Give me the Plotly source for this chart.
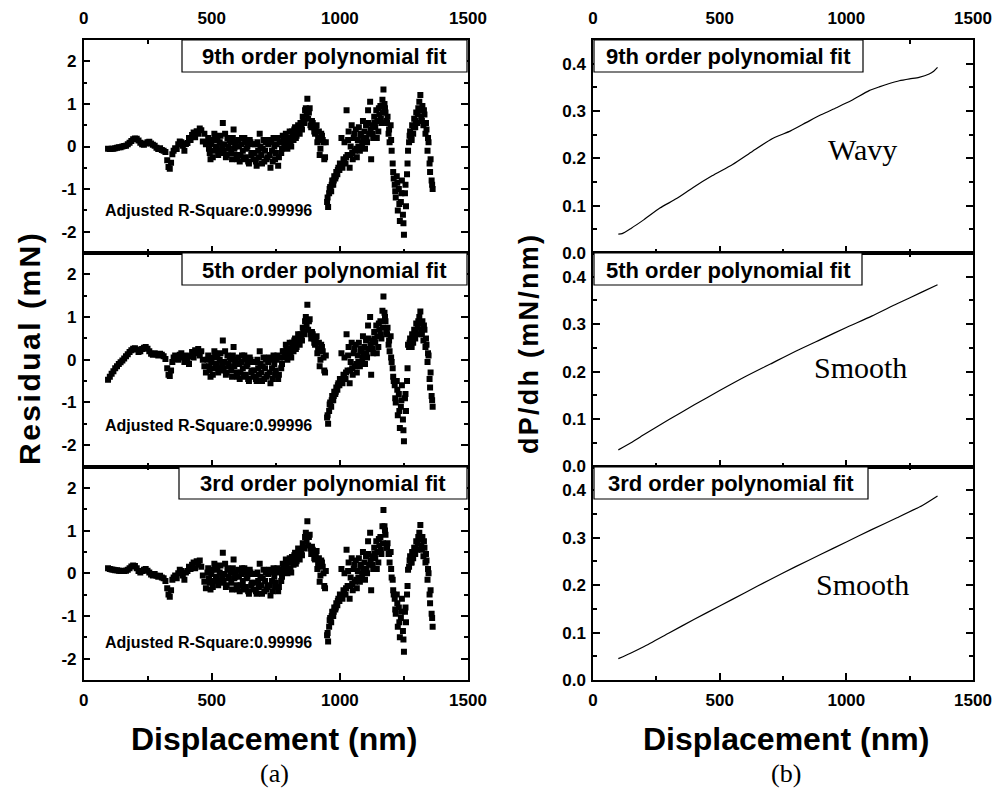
import plotly.graph_objects as go

W, H = 999, 789

# ---------------- data ----------------
displacement = [
    95, 102, 109, 116, 123, 130, 137, 144, 151, 158, 165, 172, 179, 186, 193, 200, 207, 214, 221, 228,
    235, 242, 249, 256, 263, 270, 277, 284, 291, 298, 305, 312, 319,
    326, 331, 336, 341, 346,
    351, 357, 363, 369, 375, 381, 387, 393, 399, 405, 411, 417, 423, 429, 435, 441, 447, 453, 459, 465, 471, 477,
    483, 489, 495, 501, 507, 513, 519, 525, 531, 537, 543, 549, 555, 561, 567, 573, 579, 585, 591, 597,
    603, 609, 615, 621, 627, 633, 639, 645, 651, 657, 663, 669, 675, 681, 687, 693, 699, 705, 711, 717,
    723, 729, 735, 741, 747, 753, 759, 765, 771, 777, 783, 789, 795, 801, 807, 813, 819, 825, 831, 837,
    843, 849, 855, 861, 867, 873, 879, 885, 891, 897, 903, 909, 915, 921, 927, 933, 939, 945,
    950, 954, 958, 962, 966, 970, 974, 978, 982, 986, 990, 994, 998,
    1002, 1006, 1010, 1014, 1018, 1022, 1026, 1030, 1034, 1038, 1042, 1046, 1050, 1054, 1058,
    1062, 1066, 1070, 1074, 1078, 1082, 1086, 1090, 1094, 1098, 1102, 1106, 1110, 1114, 1118, 1122,
    1126, 1130, 1134, 1138, 1142, 1146, 1150, 1154, 1158, 1162, 1166, 1170,
    1174, 1178, 1182, 1186, 1190, 1194, 1198, 1202, 1206, 1210,
    1214, 1218, 1222, 1226, 1230, 1234, 1238, 1242, 1246, 1250, 1254, 1258, 1262, 1266,
    1270, 1274, 1278, 1282, 1286, 1290, 1294, 1298, 1302, 1306, 1310, 1314, 1318, 1322, 1326, 1330, 1334,
    1338, 1342, 1346, 1350, 1354, 1358, 1362,
]

residual_9th = [
    -0.05, -0.06, -0.05, -0.05, -0.04, -0.03, -0.02, -0.02, 0.00, 0.01, 0.02, 0.05, 0.09, 0.13, 0.17, 0.19, 0.18, 0.14, 0.09, 0.05,
    0.04, 0.07, 0.10, 0.11, 0.07, 0.04, 0.02, -0.03, -0.06, -0.04, -0.08, -0.10, -0.13,
    -0.32, -0.48, -0.52, -0.38, -0.18,
    -0.10, -0.04, -0.06, 0.05, 0.12, 0.10, 0.02, -0.10, 0.06, 0.08, 0.20, 0.15, 0.27, 0.33, 0.22, 0.36, 0.30, 0.42, 0.38, 0.12, 0.30, 0.05,
    0.10, -0.05, -0.30, 0.15, -0.10, 0.25, 0.00, -0.20, 0.10, -0.15,
    0.55, 0.05, -0.25, 0.20, -0.05, 0.10, -0.30, 0.40, 0.00, -0.20,
    0.15, -0.35, 0.05, -0.10, 0.20, -0.25, 0.00, -0.40, 0.10, -0.15,
    -0.30, 0.05, -0.45, -0.10, 0.30, -0.20, -0.05, -0.35, 0.10, -0.25,
    0.15, -0.50, -0.10, 0.20, -0.30, 0.05, -0.45, 0.10, -0.15, 0.25,
    0.00, 0.30, -0.05, 0.20, 0.10, 0.35, 0.15, 0.45, 0.25, 0.50,
    0.30, 0.45, 0.70, 0.55, 0.90, 1.12, 0.80, 0.50, 0.60, 0.45,
    0.30, 0.50, 0.20, -0.20, 0.30, 0.15, -0.30, 0.10,
    -1.30, -1.42, -1.10, -0.95, -1.05, -0.80, -0.90, -0.70, -0.75, -0.60, -0.65, -0.50, -0.55,
    -0.45, 0.20, -0.50, -0.30, 0.10, -0.40, 0.85, -0.20, 0.35, -0.50, 0.00, 0.50, -0.30, 0.20, -0.10,
    0.40, -0.25, 0.15, 0.45, -0.10, 0.30, 0.00, 0.60, 0.20, -0.05, 0.50, 0.10, 0.85, 0.30, 1.05, -0.30,
    0.50, 0.20, 0.70, 0.45, 0.85, 0.60, 0.35, 0.75, 0.95, 0.55, 1.10, 1.34,
    1.00, 0.80, 0.60, 0.70, 0.30, 0.10, 0.50, -0.10, -0.40, -0.75,
    -0.90, -1.20, -0.70, -1.50, -1.00, -1.75, -1.30, -0.80, -1.60, -2.07, -1.10, -1.40, -0.65, -0.10,
    0.10, 0.35, 0.20, 0.50, 0.30, 0.65, 0.45, 0.80, 0.55, 0.90, 1.05, 1.21, 0.70, 0.95, 0.50, 0.75, 0.30,
    0.40, -0.10, 0.10, -0.40, -0.30, -0.80, -1.00,
]

residual_5th = [
    -0.47, -0.40, -0.33, -0.27, -0.20, -0.15, -0.10, -0.06, -0.02, 0.03, 0.08, 0.13, 0.18, 0.22, 0.26, 0.27, 0.24, 0.18, 0.20, 0.25,
    0.28, 0.30, 0.26, 0.20, 0.14, 0.12, 0.15, 0.13, 0.10, 0.14, 0.12, 0.08, 0.02,
    -0.20, -0.35, -0.38, -0.25, -0.05,
    0.05, 0.10, 0.02, 0.00, 0.12, 0.15, 0.05, -0.05, 0.10, 0.02, -0.10, 0.08, 0.18, 0.05, 0.22, 0.15, 0.25, 0.10, 0.20, 0.00, -0.15, -0.30,
    0.00, -0.15, -0.40, 0.05, -0.20, 0.15, -0.10, -0.30, 0.00, -0.25,
    0.45, -0.05, -0.35, 0.10, -0.15, 0.00, -0.40, 0.30, -0.10, -0.30,
    0.05, -0.45, -0.05, -0.20, 0.10, -0.35, -0.10, -0.50, 0.00, -0.25,
    -0.40, -0.05, -0.50, -0.20, 0.20, -0.30, -0.15, -0.45, 0.00, -0.35,
    0.05, -0.55, -0.20, 0.10, -0.35, 0.00, -0.45, 0.05, -0.20, 0.20,
    0.05, 0.35, 0.00, 0.25, 0.15, 0.40, 0.20, 0.50, 0.30, 0.60,
    0.35, 0.55, 0.75, 0.60, 1.00, 1.29, 0.90, 0.60, 0.65, 0.50,
    0.35, 0.55, 0.25, -0.15, 0.35, 0.20, -0.25, 0.10,
    -1.35, -1.50, -1.20, -1.00, -1.10, -0.85, -0.95, -0.75, -0.80, -0.65, -0.70, -0.55, -0.60,
    -0.50, 0.15, -0.55, -0.35, 0.05, -0.45, 0.60, -0.25, 0.30, -0.55, -0.05, 0.40, -0.35, 0.15, -0.15,
    0.35, -0.30, 0.10, 0.40, -0.15, 0.25, -0.05, 0.55, 0.15, -0.10, 0.45, 0.05, 0.80, 0.25, 1.00, -0.35,
    0.45, 0.15, 0.65, 0.40, 0.80, 0.55, 0.30, 0.70, 0.90, 0.50, 1.15, 1.48,
    1.10, 0.90, 0.65, 0.75, 0.35, 0.20, 0.55, -0.05, -0.20, -0.50,
    -0.60, -1.00, -0.50, -1.30, -0.80, -1.60, -1.10, -0.60, -1.40, -1.91, -0.90, -1.20, -0.50, 0.35,
    0.30, 0.50, 0.35, 0.60, 0.40, 0.70, 0.50, 0.85, 0.60, 0.90, 1.00, 1.13, 0.70, 0.90, 0.45, 0.70, 0.30,
    0.35, -0.05, 0.10, -0.45, -0.30, -0.85, -1.10,
]

residual_3rd = [
    0.12, 0.10, 0.09, 0.08, 0.07, 0.07, 0.06, 0.05, 0.06, 0.05, 0.06, 0.08, 0.12, 0.16, 0.18, 0.17, 0.12, 0.05, 0.02, 0.05,
    0.08, 0.10, 0.06, 0.02, -0.03, -0.05, -0.02, -0.06, -0.08, -0.06, -0.10, -0.12, -0.18,
    -0.35, -0.50, -0.55, -0.40, -0.15,
    -0.10, -0.05, -0.12, 0.00, 0.08, 0.05, -0.05, -0.15, 0.02, 0.05, 0.15, 0.10, 0.20, 0.25, 0.12, 0.28, 0.20, 0.30, 0.15, -0.05, -0.20, -0.35,
    0.02, -0.12, -0.38, 0.08, -0.18, 0.18, -0.08, -0.28, 0.02, -0.22,
    0.48, -0.02, -0.32, 0.12, -0.12, 0.02, -0.38, 0.32, -0.08, -0.28,
    0.08, -0.42, -0.02, -0.18, 0.12, -0.32, -0.08, -0.48, 0.02, -0.22,
    -0.38, -0.02, -0.48, -0.18, 0.22, -0.28, -0.12, -0.42, 0.02, -0.32,
    0.08, -0.52, -0.18, 0.12, -0.32, 0.02, -0.42, 0.08, -0.18, 0.22,
    0.05, 0.32, 0.00, 0.25, 0.12, 0.38, 0.20, 0.48, 0.28, 0.58,
    0.32, 0.52, 0.70, 0.58, 0.95, 1.22, 0.85, 0.58, 0.62, 0.48,
    0.32, 0.52, 0.22, -0.20, 0.30, 0.15, -0.30, 0.05,
    -1.45, -1.60, -1.25, -1.05, -1.15, -0.90, -1.00, -0.80, -0.85, -0.70, -0.75, -0.60, -0.65,
    -0.55, 0.10, -0.60, -0.40, 0.00, -0.50, 0.55, -0.30, 0.25, -0.60, -0.10, 0.35, -0.40, 0.10, -0.20,
    0.30, -0.35, 0.05, 0.35, -0.20, 0.20, -0.10, 0.50, 0.10, -0.15, 0.40, 0.00, 0.75, 0.20, 0.95, -0.40,
    0.40, 0.10, 0.60, 0.35, 0.75, 0.50, 0.25, 0.65, 0.85, 0.45, 1.10, 1.48,
    1.10, 0.90, 0.60, 0.70, 0.45, 0.25, 0.50, -0.10, -0.15, -0.50,
    -0.60, -0.95, -0.50, -1.25, -0.80, -1.50, -1.05, -0.60, -1.35, -1.84, -0.90, -1.15, -0.50, 0.08,
    0.15, 0.40, 0.25, 0.50, 0.35, 0.60, 0.45, 0.75, 0.55, 0.85, 0.95, 1.13, 0.65, 0.85, 0.40, 0.60, 0.25,
    0.30, -0.15, 0.00, -0.50, -0.40, -0.95, -1.25,
]

# second interleaved set of residual points (dense region of the scatter)
displacement_extra = [
    486, 492, 498, 504, 510, 516, 522, 528, 534, 540, 546, 552, 558, 564, 570, 576, 582, 588, 594, 600,
    606, 612, 618, 624, 630, 636, 642, 648, 654, 660, 666, 672, 678, 684, 690, 696, 702, 708, 714, 720,
    726, 732, 738, 744, 750, 756, 762, 768, 774, 780, 786, 792, 798, 804, 810, 816, 822, 828, 834, 840,
    846, 852, 858, 864, 870, 876, 882, 888, 894, 900, 906, 912, 918, 924, 930, 936, 942,
    952, 960, 968, 976, 984, 992, 1000, 1008, 1016, 1024, 1032, 1040, 1048, 1056,
    1064, 1072, 1080, 1088, 1096, 1104, 1112, 1120, 1128, 1136, 1144, 1152, 1160, 1168,
    1176, 1184, 1192, 1200, 1208, 1216, 1224, 1232, 1240, 1248, 1256, 1264,
    1272, 1280, 1288, 1296, 1304, 1312, 1320, 1328, 1336, 1344, 1352, 1360,
]

residual_9th_extra = [
    0.20, -0.15, 0.05, -0.25, 0.30, -0.05, 0.15, -0.10, 0.25, 0.00,
    -0.10, 0.30, -0.20, 0.00, 0.15, -0.15, 0.20, -0.05, 0.10, -0.30,
    0.00, -0.20, 0.20, -0.30, 0.10, -0.05, -0.35, 0.15, -0.20, 0.05,
    -0.15, -0.35, 0.10, -0.25, 0.00, -0.40, 0.15, -0.10, -0.30, 0.05,
    -0.20, 0.10, -0.35, 0.00, -0.15, 0.20, -0.25, 0.10, -0.05, 0.15,
    0.10, 0.20, 0.05, 0.35, 0.00, 0.25, 0.40, 0.20, 0.35, 0.45,
    0.55, 0.40, 0.60, 0.85, 0.75, 0.65, 0.90, 0.45, 0.55, 0.35,
    0.40, 0.10, 0.35, -0.05, 0.25, 0.10, -0.25,
    -1.20, -1.00, -0.90, -0.80, -0.70, -0.55, -0.40, -0.45, -0.35, -0.25, 0.15, -0.20, -0.15, 0.30,
    -0.05, 0.00, 0.25, 0.10, 0.35, 0.20, 0.55, 0.40, 0.30, 0.55, 0.20, 0.90, 0.65, 0.80,
    0.90, 0.55, 0.40, 0.15, -0.60, -1.05, -0.85, -1.35, -1.10, -1.80, -0.90, -0.40,
    0.25, 0.15, 0.45, 0.60, 0.75, 0.85, 0.60, 0.85, 0.55, 0.20, -0.60, -0.90,
]

residual_5th_extra = [
    0.10, -0.25, -0.05, -0.35, 0.20, -0.15, 0.05, -0.20, 0.15, -0.10,
    -0.20, 0.20, -0.30, -0.10, 0.05, -0.25, 0.10, -0.15, 0.00, -0.40,
    -0.10, -0.30, 0.10, -0.40, 0.00, -0.15, -0.45, 0.05, -0.30, -0.05,
    -0.25, -0.45, 0.00, -0.35, -0.10, -0.50, 0.05, -0.20, -0.40, -0.05,
    -0.30, 0.00, -0.45, -0.10, -0.25, 0.10, -0.35, 0.05, -0.10, 0.20,
    0.15, 0.25, 0.10, 0.40, 0.05, 0.30, 0.45, 0.25, 0.40, 0.50,
    0.60, 0.45, 0.65, 0.90, 0.80, 0.70, 0.95, 0.50, 0.60, 0.40,
    0.45, 0.15, 0.40, 0.00, 0.30, 0.05, -0.30,
    -1.30, -1.05, -0.95, -0.85, -0.75, -0.60, -0.45, -0.50, -0.40, -0.30, 0.10, -0.25, -0.20, 0.25,
    -0.10, -0.05, 0.20, 0.05, 0.30, 0.15, 0.50, 0.35, 0.25, 0.50, 0.15, 0.85, 0.60, 0.75,
    1.00, 0.60, 0.45, 0.05, -0.40, -0.90, -0.70, -1.20, -0.95, -1.65, -0.80, -0.20,
    0.40, 0.30, 0.55, 0.65, 0.75, 0.85, 0.60, 0.80, 0.50, 0.15, -0.65, -0.95,
]

residual_3rd_extra = [
    0.12, -0.22, -0.02, -0.32, 0.22, -0.12, 0.08, -0.18, 0.18, -0.08,
    -0.18, 0.22, -0.28, -0.08, 0.08, -0.22, 0.12, -0.12, 0.02, -0.38,
    -0.08, -0.28, 0.12, -0.38, 0.02, -0.12, -0.42, 0.08, -0.28, -0.02,
    -0.22, -0.42, 0.02, -0.32, -0.08, -0.48, 0.08, -0.18, -0.38, -0.02,
    -0.28, 0.02, -0.42, -0.08, -0.22, 0.12, -0.32, 0.05, -0.08, 0.20,
    0.12, 0.22, 0.08, 0.35, 0.02, 0.28, 0.42, 0.22, 0.35, 0.45,
    0.55, 0.42, 0.60, 0.85, 0.75, 0.65, 0.90, 0.45, 0.55, 0.35,
    0.40, 0.10, 0.35, -0.05, 0.25, 0.00, -0.35,
    -1.40, -1.10, -1.00, -0.90, -0.80, -0.65, -0.50, -0.55, -0.45, -0.35, 0.05, -0.30, -0.25, 0.20,
    -0.15, -0.10, 0.15, 0.00, 0.25, 0.10, 0.45, 0.30, 0.20, 0.45, 0.10, 0.80, 0.55, 0.70,
    1.00, 0.60, 0.45, 0.10, -0.40, -0.85, -0.70, -1.15, -0.90, -1.55, -0.80, -0.30,
    0.30, 0.25, 0.50, 0.60, 0.70, 0.80, 0.55, 0.75, 0.45, 0.10, -0.70, -1.05,
]

dpdh_9th_x = [100, 115, 150, 200, 264, 330, 394, 470, 551, 630, 709, 780, 843, 900, 961, 1020, 1090,
              1130, 1170, 1209, 1250, 1287, 1327, 1345, 1360]
dpdh_9th_y = [0.040, 0.041, 0.052, 0.070, 0.095, 0.115, 0.138, 0.163, 0.187, 0.215, 0.242, 0.258, 0.276,
              0.292, 0.307, 0.322, 0.343, 0.351, 0.358, 0.364, 0.368, 0.371, 0.378, 0.384, 0.392]

dpdh_5th_x = [100, 150, 200, 300, 400, 500, 600, 700, 800, 900, 1000, 1100, 1200, 1300, 1360]
dpdh_5th_y = [0.035, 0.050, 0.067, 0.099, 0.130, 0.160, 0.189, 0.216, 0.243, 0.268, 0.293, 0.317, 0.343,
              0.368, 0.383]

dpdh_3rd_x = [100, 150, 200, 300, 400, 500, 600, 700, 800, 900, 1000, 1100, 1200, 1300, 1360]
dpdh_3rd_y = [0.045, 0.057, 0.070, 0.099, 0.128, 0.156, 0.184, 0.212, 0.239, 0.265, 0.291, 0.317, 0.342,
              0.368, 0.388]

fit_labels = ["9th order polynomial fit", "5th order polynomial fit", "3rd order polynomial fit"]
shape_labels = ["Wavy", "Smooth", "Smooth"]
r_square_text = "Adjusted R-Square:0.99996"
x_ticks = [0, 500, 1000, 1500]
res_ticks = [-2, -1, 0, 1, 2]
res_ticktext = ["-2", "-1", "0", "1", "2"]
slope_ticks = [0.0, 0.1, 0.2, 0.3, 0.4]
slope_ticktext = ["0.0", "0.1", "0.2", "0.3", "0.4"]

for name, r in [("9th", residual_9th), ("5th", residual_5th), ("3rd", residual_3rd)]:
    if len(r) != len(displacement):
        raise ValueError(f"{name}: {len(r)} vs {len(displacement)}")
for name, r in [("9th+", residual_9th_extra), ("5th+", residual_5th_extra), ("3rd+", residual_3rd_extra)]:
    if len(r) != len(displacement_extra):
        raise ValueError(f"{name}: {len(r)} vs {len(displacement_extra)}")

# ---------------- layout helpers ----------------
def fx(p):
    return p / W

def fy(p):
    return 1 - p / H

SANS = "Liberation Sans, Arial, sans-serif"
SERIF = "Liberation Serif, Times New Roman, serif"

rows_px = [(40, 253), (253, 466.5), (466.5, 680)]
cols_px = [(83.7, 468), (593, 973)]

fig = go.Figure()

res_sets = [(residual_9th, residual_9th_extra), (residual_5th, residual_5th_extra), (residual_3rd, residual_3rd_extra)]
slope_sets = [(dpdh_9th_x, dpdh_9th_y), (dpdh_5th_x, dpdh_5th_y), (dpdh_3rd_x, dpdh_3rd_y)]

def axname(i):
    return "" if i == 1 else str(i)

for k in range(3):
    i = k + 1
    fig.add_trace(go.Scatter(
        x=displacement + displacement_extra, y=res_sets[k][0] + res_sets[k][1], mode="markers",
        marker=dict(symbol="square", size=6, color="black", line=dict(width=0)),
        xaxis="x" + axname(i), yaxis="y" + axname(i), showlegend=False, hoverinfo="skip"))
for k in range(3):
    i = k + 4
    fig.add_trace(go.Scatter(
        x=slope_sets[k][0], y=slope_sets[k][1], mode="lines",
        line=dict(color="black", width=1.2, shape="spline", smoothing=0.6),
        xaxis="x" + axname(i), yaxis="y" + axname(i), showlegend=False, hoverinfo="skip"))

tickfont = dict(family=SANS, size=17, color="black", weight="bold")
layout = dict(
    width=W, height=H, margin=dict(l=0, r=0, t=0, b=0, autoexpand=False),
    paper_bgcolor="white", plot_bgcolor="white", showlegend=False, template="none",
)

for col in range(2):
    for row in range(3):
        i = col * 3 + row + 1
        x0, x1 = cols_px[col]
        y0, y1 = rows_px[row]
        xa = dict(
            domain=[fx(x0), fx(x1)], anchor="y" + axname(i), range=[0, 1500], automargin=False,
            tickvals=x_ticks, ticks="inside", ticklen=7, tickwidth=1.5, tickcolor="black",
            showline=True, linecolor="black", linewidth=1.5, mirror="ticks",
            showgrid=False, zeroline=False, tickfont=tickfont,
            minor=dict(ticks="inside", ticklen=4, tickwidth=1.5, tickcolor="black", dtick=250, tick0=0, showgrid=False),
        )
        if row == 0:
            xa["side"] = "top"
            xa["ticklabelstandoff"] = 7
        elif row == 1:
            xa["showticklabels"] = False
        else:
            xa["side"] = "bottom"
            xa["ticklabelstandoff"] = 4
        if col == 0:
            ya = dict(range=[-2.5, 2.5], tickvals=res_ticks, ticktext=res_ticktext,
                      minor=dict(ticks="inside", ticklen=4, tickwidth=1.5, tickcolor="black", dtick=0.5, tick0=0, showgrid=False))
        else:
            ya = dict(range=[0, 0.45], tickvals=slope_ticks, ticktext=slope_ticktext,
                      minor=dict(ticks="inside", ticklen=4, tickwidth=1.5, tickcolor="black", dtick=0.05, tick0=0, showgrid=False))
        ya.update(dict(
            domain=[fy(y1), fy(y0)], anchor="x" + axname(i), automargin=False,
            ticks="inside", ticklen=7, tickwidth=1.5, tickcolor="black",
            showline=True, linecolor="black", linewidth=1.5, mirror="ticks",
            showgrid=False, zeroline=False, tickfont=tickfont, ticklabelstandoff=2,
        ))
        layout["xaxis" + axname(i)] = xa
        layout["yaxis" + axname(i)] = ya

fig.update_layout(**layout)

shapes = []
annotations = []
left_boxes = [(182, 467, 40, 72), (182, 467, 253, 285), (179, 467, 467, 499)]
right_boxes = [(594, 863, 40, 72), (594, 862, 253, 285), (594, 868, 467, 499)]
for boxes in (left_boxes, right_boxes):
    for k, (bx0, bx1, by0, by1) in enumerate(boxes):
        shapes.append(dict(type="rect", xref="paper", yref="paper",
                           x0=fx(bx0), x1=fx(bx1), y0=fy(by1), y1=fy(by0),
                           fillcolor="white", line=dict(color="black", width=1.2), layer="above"))
        annotations.append(dict(text=fit_labels[k], xref="paper", yref="paper",
                                x=fx((bx0 + bx1) / 2), y=fy((by0 + by1) / 2 + 1),
                                xanchor="center", yanchor="middle", showarrow=False,
                                font=dict(family=SANS, size=22, color="black", weight="bold")))

for k, yc in enumerate([210, 425, 642]):
    annotations.append(dict(text=r_square_text, xref="paper", yref="paper", x=fx(103), y=fy(yc),
                            xanchor="left", yanchor="middle", showarrow=False,
                            font=dict(family=SANS, size=16, color="black", weight="bold")))

for k, (xc, yc) in enumerate([(862, 149), (860, 367), (862, 584)]):
    annotations.append(dict(text=shape_labels[k], xref="paper", yref="paper", x=fx(xc), y=fy(yc),
                            xanchor="center", yanchor="middle", showarrow=False,
                            font=dict(family=SERIF, size=30, color="black")))

for xc, lab in [(274, "(a)"), (786, "(b)")]:
    annotations.append(dict(text="Displacement (nm)", xref="paper", yref="paper", x=fx(xc), y=fy(739),
                            xanchor="center", yanchor="middle", showarrow=False,
                            font=dict(family=SANS, size=32, color="black", weight="bold")))
    annotations.append(dict(text=lab, xref="paper", yref="paper", x=fx(xc), y=fy(773),
                            xanchor="center", yanchor="middle", showarrow=False,
                            font=dict(family=SERIF, size=26, color="black")))

hs = "\u200a"
annotations.append(dict(text=hs.join("Residual (mN)"), xref="paper", yref="paper", x=fx(29), y=fy(349),
                        xanchor="center", yanchor="middle", showarrow=False, textangle=-90,
                        font=dict(family=SANS, size=30, color="black", weight="bold")))
annotations.append(dict(text=hs.join("dP/dh (mN/nm)"), xref="paper", yref="paper", x=fx(529), y=fy(345),
                        xanchor="center", yanchor="middle", showarrow=False, textangle=-90,
                        font=dict(family=SANS, size=27, color="black", weight="bold")))

fig.update_layout(shapes=shapes, annotations=annotations)
fig.write_html(
    "out.html",
    config={"displayModeBar": False},
    post_script="document.body.style.margin='0';document.body.style.padding='0';document.body.style.overflow='hidden';",
)
